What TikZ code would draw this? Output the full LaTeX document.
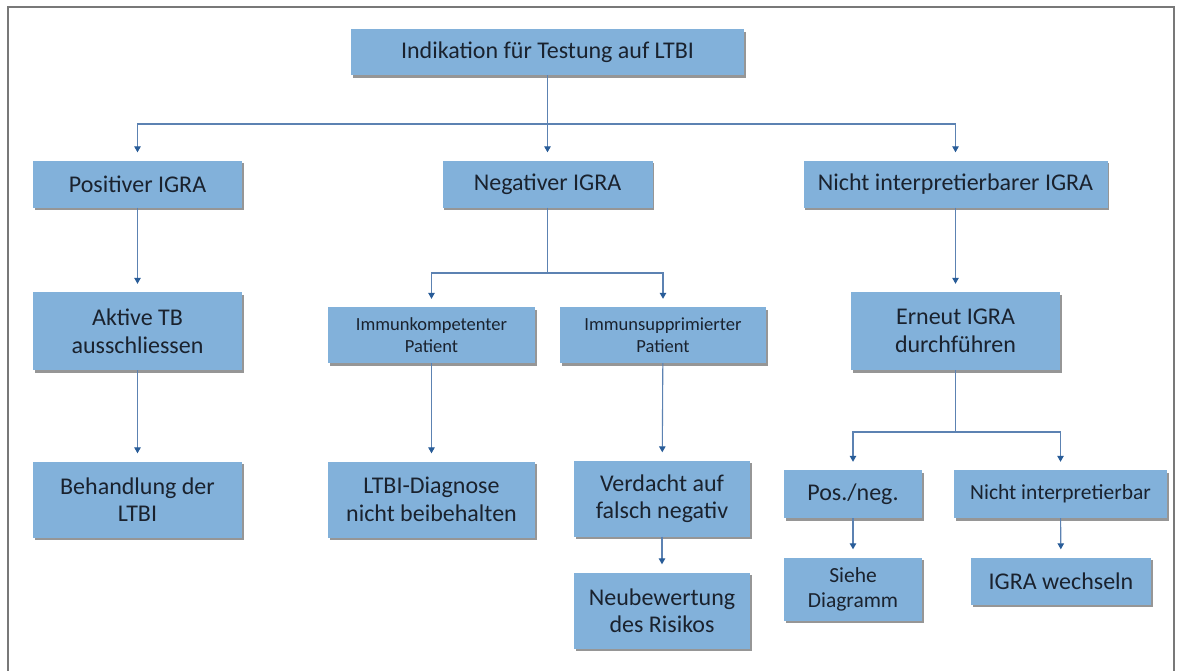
\documentclass[tikz,border=0pt]{standalone}
\usepackage{fontspec}
\setmainfont{Carlito}
\usetikzlibrary{arrows.meta,shadows}
\definecolor{boxfill}{RGB}{130,177,218}
\definecolor{linec}{RGB}{92,130,178}
\definecolor{tipc}{RGB}{40,92,152}
\definecolor{txtc}{RGB}{26,34,46}
\definecolor{framec}{RGB}{120,120,120}
\begin{document}
\begin{tikzpicture}[x=1pt,y=-1pt,
  box/.style={fill=boxfill, draw=none, text=txtc, align=center, inner sep=0pt,
    drop shadow={shadow xshift=1.5pt, shadow yshift=-2.5pt, fill=black!75, opacity=0.55}},
  big/.style={font=\fontsize{24}{27.5}\selectfont},
  mid/.style={font=\fontsize{21.5}{25}\selectfont},
  small/.style={font=\fontsize{18.5}{22.5}\selectfont},
  conn/.style={draw=linec, line width=1.1pt},
  arr/.style={conn, -{Triangle[width=6.5pt,length=6pt,color=tipc]}, shorten >=8pt}
]
\fill[white] (0,0) rectangle (1179,670);
\useasboundingbox (0,0) rectangle (1179,670);
\draw[framec, line width=2pt] (8,672) -- (8,7) -- (1174,7) -- (1174,672);

% nodes
\node[box,big,minimum width=393pt,minimum height=46pt] (top) at (547.5,52) {Indikation für Testung auf LTBI};
\node[box,big,minimum width=209pt,minimum height=47pt] (pos) at (137.5,184) {Positiver IGRA};
\node[box,big,minimum width=210pt,minimum height=47pt] (neg) at (547.5,184) {Negativer IGRA};
\node[box,big,minimum width=304pt,minimum height=47pt] (nin) at (955.5,184) {Nicht interpretierbarer IGRA};

\node[box,big,minimum width=209pt,minimum height=78pt] (akt) at (137.5,331) {Aktive TB\\ausschliessen};
\node[box,big,minimum width=209pt,minimum height=76pt] (beh) at (137.5,499.5) {Behandlung der\\LTBI};

\node[box,small,minimum width=207pt,minimum height=56pt] (immk) at (431.5,335) {Immunkompetenter\\Patient};
\node[box,small,minimum width=206pt,minimum height=56pt] (imms) at (663,335) {Immunsupprimierter\\Patient};
\node[box,big,minimum width=207pt,minimum height=76pt] (ltbi) at (431.5,499.5) {LTBI-Diagnose\\nicht beibehalten};
\node[box,big,minimum width=176pt,minimum height=76pt] (verd) at (662,498.5) {Verdacht auf\\falsch negativ};
\node[box,big,minimum width=176pt,minimum height=76pt] (neu) at (662,610.5) {Neubewertung\\des Risikos};

\node[box,big,minimum width=209pt,minimum height=78pt] (ern) at (955.5,331) {Erneut IGRA\\durchführen};
\node[box,big,minimum width=138pt,minimum height=48pt] (pn) at (853,494) {Pos./neg.};
\node[box,mid,minimum width=213pt,minimum height=48pt] (nint) at (1060.5,494) {Nicht interpretierbar};
\node[box,mid,minimum width=138pt,minimum height=63pt] (sd) at (853,589) {Siehe\\Diagramm};
\node[box,big,minimum width=180pt,minimum height=47pt] (iw) at (1061,581) {IGRA wechseln};

% junctions
\coordinate (j1) at (547.5,124);
\coordinate (j2) at (547.5,273);
\coordinate (j3) at (955.5,432);

% connectors
\draw[conn] (top) -- (j1);
\draw[arr] (j1) -| (pos);
\draw[arr] (j1) -- (neg);
\draw[arr] (j1) -| (nin);

\draw[arr] (pos) -- (akt);
\draw[arr] (akt) -- (beh);

\draw[conn] (neg) -- (j2);
\draw[arr] (j2) -| (immk);
\draw[arr] (j2) -| (imms);
\draw[arr] (immk) -- (ltbi);
\draw[arr] (imms) -- (verd);
\draw[arr] (verd) -- (neu);

\draw[arr] (nin) -- (ern);
\draw[conn] (ern) -- (j3);
\draw[arr] (j3) -| (pn);
\draw[arr] (j3) -| (nint);
\draw[arr] (pn) -- (sd);
\draw[arr] (nint) -- (iw);
\end{tikzpicture}
\end{document}
